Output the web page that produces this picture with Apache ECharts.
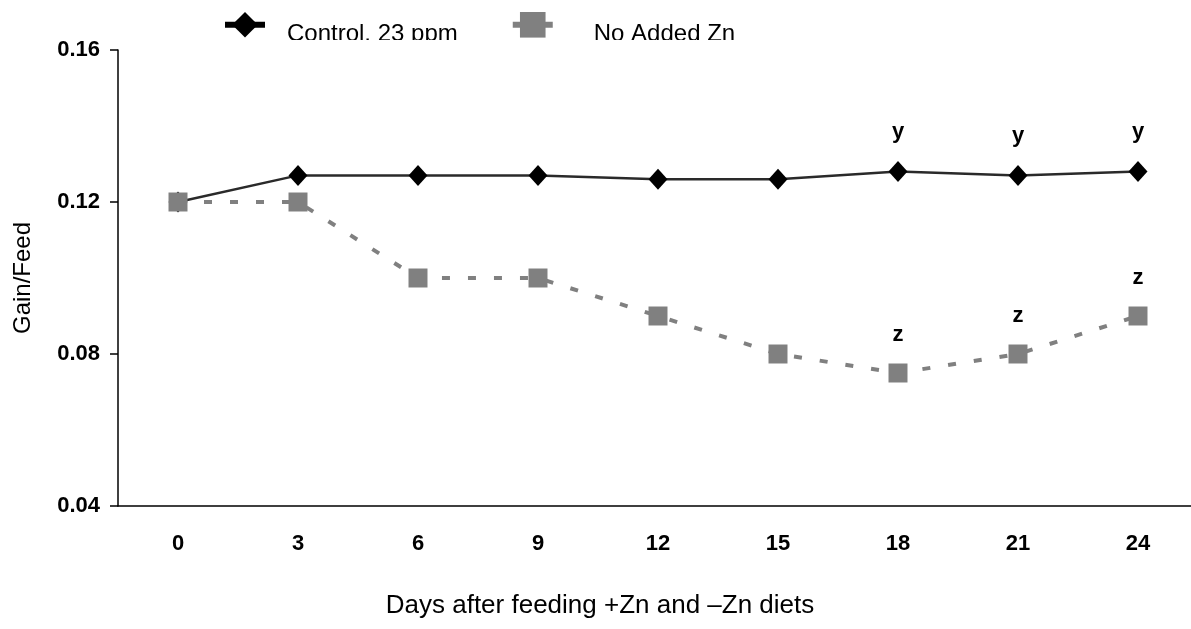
<!DOCTYPE html>
<html>
<head>
<meta charset="utf-8">
<script src="https://cdn.jsdelivr.net/npm/echarts@6/dist/echarts.min.js"></script>
<style>
  html, body { margin: 0; padding: 0; background: #fff; }
  #main { width: 1191px; height: 629px; }
</style>
</head>
<body>
<div id="main"></div>
<script>
// days after feeding
var days = ['0', '3', '6', '9', '12', '15', '18', '21', '24'];
// gain/feed, control diet (23 ppm Zn)
var control = [0.120, 0.127, 0.127, 0.127, 0.126, 0.126, 0.128, 0.127, 0.128];
// gain/feed, no added Zn
var noZn = [0.120, 0.120, 0.100, 0.100, 0.090, 0.080, 0.075, 0.080, 0.090];
// significance letters above points
var controlLetters = ['', '', '', '', '', '', 'y', 'y', 'y'];
var noZnLetters = ['', '', '', '', '', '', 'z', 'z', 'z'];
var yTicks = [0.04, 0.08, 0.12, 0.16];

var FONT = 'Liberation Sans, Arial, sans-serif';

var withLetters = function (values, letters) {
    return values.map(function (v, i) {
        return {
            value: v,
            label: { show: letters[i] !== '', formatter: letters[i] }
        };
    });
};

var chart = echarts.init(document.getElementById('main'));

var legendText = { fontSize: 24, color: '#000', fontFamily: FONT };

var option = {
    animation: false,
    backgroundColor: '#fff',
    textStyle: { fontFamily: FONT },
    legend: {
        left: 217,
        top: 7,
        itemWidth: 40,
        itemHeight: 32,
        itemGap: 52,
        formatter: function (name) {
            return (name === 'No Added Zn' ? '{b|' : '{a|') + name + '}';
        },
        textStyle: {
            fontSize: 24, color: '#000', fontFamily: FONT,
            rich: {
                a: Object.assign({ padding: [19, 0, 0, 17] }, legendText),
                b: Object.assign({ padding: [19, 0, 0, 36] }, legendText)
            }
        },
        data: [
            { name: 'Control, 23 ppm', lineStyle: { width: 6, color: '#000' } },
            { name: 'No Added Zn', lineStyle: { width: 6, type: 'solid', color: '#808080' } }
        ]
    },
    graphic: [{
        // the legend texts are cut at their baseline in the original
        type: 'rect',
        z: 100,
        shape: { x: 270, y: 40, width: 500, height: 8 },
        style: { fill: '#fff' }
    }],
    grid: { left: 118, top: 50, right: -7, bottom: 123, outerBoundsMode: 'none' },
    xAxis: {
        type: 'category',
        data: days,
        boundaryGap: true,
        name: 'Days after feeding +Zn and \u2013Zn diets',
        nameLocation: 'middle',
        nameGap: 87,
        nameTextStyle: { fontSize: 26, color: '#000', fontFamily: FONT, padding: [0, 116, 0, 0] },
        axisLine: { lineStyle: { color: '#000', width: 1.5 } },
        axisTick: { length: 8, lineStyle: { color: '#000', width: 1.5 } },
        axisLabel: { margin: 27, fontSize: 22, fontWeight: 'bold', color: '#000', fontFamily: FONT },
        splitLine: { show: false }
    },
    yAxis: {
        type: 'value',
        min: yTicks[0],
        max: yTicks[yTicks.length - 1],
        interval: 0.04,
        name: 'Gain/Feed',
        nameLocation: 'middle',
        nameGap: 83,
        nameTextStyle: { fontSize: 24, color: '#000', fontFamily: FONT },
        axisLine: { show: true, lineStyle: { color: '#000', width: 1.5 } },
        axisTick: { show: true, length: 8, lineStyle: { color: '#000', width: 1.5 } },
        axisLabel: {
            margin: 18, fontSize: 22, fontWeight: 'bold', color: '#000', fontFamily: FONT,
            formatter: function (v) { return v.toFixed(2); }
        },
        splitLine: { show: false }
    },
    series: [
        {
            name: 'Control, 23 ppm',
            type: 'line',
            data: withLetters(control, controlLetters),
            symbol: 'diamond',
            symbolSize: [19, 21],
            itemStyle: { color: '#000' },
            lineStyle: { color: '#2a2a2a', width: 2.5 },
            label: {
                position: 'top', distance: 18,
                fontSize: 22, fontWeight: 'bold', color: '#000', fontFamily: FONT
            }
        },
        {
            name: 'No Added Zn',
            type: 'line',
            data: withLetters(noZn, noZnLetters),
            symbol: 'rect',
            symbolSize: 19,
            itemStyle: { color: '#808080' },
            lineStyle: { color: '#808080', width: 4, type: [8, 18] },
            label: {
                position: 'top', distance: 18,
                fontSize: 22, fontWeight: 'bold', color: '#000', fontFamily: FONT
            }
        }
    ]
};

chart.setOption(option);
</script>
</body>
</html>
